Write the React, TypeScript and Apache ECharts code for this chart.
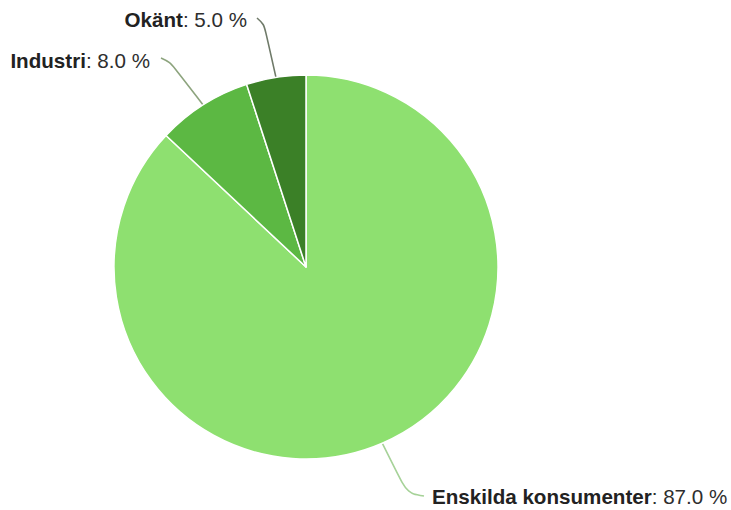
import React, { useEffect, useRef } from "react";
import * as echarts from "echarts";

const categories = ["Enskilda konsumenter", "Industri", "Okänt"];
const values = [87.0, 8.0, 5.0];
const sliceColors = ["#8ee070", "#5cb843", "#3b8027"];
const lineColors = ["#a6d298", "#8da47e", "#6f7a69"];

export default function App() {
  const ref = useRef<HTMLDivElement>(null);
  useEffect(() => {
    document.body.style.margin = "0";
    const chart = echarts.init(ref.current!, null, { renderer: "svg" });
    const cx = 306;
    const cy = 267;
    const R = 192;
    const total = values.reduce((a, b) => a + b, 0);
    // mid-angle edge points, computed from the data
    let acc = 0;
    const edges = values.map((v) => {
      const mid = acc + v / 2;
      acc += v;
      const ang = Math.PI / 2 - (mid / total) * Math.PI * 2;
      return [cx + R * Math.cos(ang), cy - R * Math.sin(ang)];
    });
    const labelPlaces = [
      { x: 432, y: 496, align: "left", bend: [407, 493], end: [424, 496] },
      { x: 150, y: 60, align: "right", bend: [170, 62], end: [161, 58] },
      { x: 247, y: 19, align: "right", bend: [264, 24], end: [257, 18] },
    ];
    chart.setOption({
      animation: false,
      backgroundColor: "#ffffff",
      series: [
        {
          type: "pie",
          center: [cx, cy],
          radius: R,
          startAngle: 90,
          clockwise: true,
          itemStyle: { borderColor: "#ffffff", borderWidth: 1.5 },
          label: {
            show: true,
            position: "outside",
            formatter: (p: any) => `{b|${p.name}}{v|: ${p.value.toFixed(1)} %}`,
            rich: {
              b: {
                fontFamily: "Liberation Sans, Arial, sans-serif",
                fontSize: 20.6,
                fontWeight: "bold",
                color: "#222222",
              },
              v: {
                fontFamily: "Liberation Sans, Arial, sans-serif",
                fontSize: 20.6,
                color: "#2e2e2e",
              },
            },
          },
          labelLine: { show: true, smooth: 0.35, lineStyle: { width: 1.6 } },
          labelLayout: (params: any) => {
            const i = params.dataIndex;
            const lp = labelPlaces[i];
            return {
              x: lp.x,
              y: lp.y,
              align: lp.align,
              verticalAlign: "middle",
              labelLinePoints: [edges[i], lp.bend, lp.end],
            };
          },
          data: categories.map((name, i) => ({
            name,
            value: values[i],
            itemStyle: { color: sliceColors[i] },
            labelLine: { lineStyle: { color: lineColors[i] } },
          })),
        },
      ],
    });
    return () => chart.dispose();
  }, []);
  return <div ref={ref} style={{ width: 731, height: 510 }} />;
}
